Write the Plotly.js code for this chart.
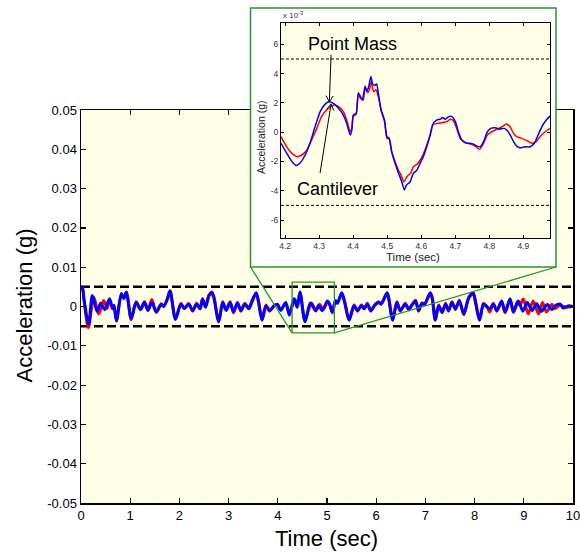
<!DOCTYPE html>
<html><head><meta charset="utf-8">
<script src="https://cdn.plot.ly/plotly-3.0.1.min.js"></script>
<style>html,body{margin:0;padding:0;background:#fff}#chart{width:580px;height:552px}</style>
</head><body><div id="chart"></div>
<script>
// ---------------- DATA ----------------
// Main plot: time (sec) and acceleration in milli-g (converted to g for plotting)
const mainTimeBlue = [0,0.03,0.06,0.155,0.23,0.325,0.40,0.48,0.58,0.64,
 0.67,0.72,0.82,0.87,0.92,1.02,1.12,1.21,1.29,1.36,
 1.44,1.53,1.63,1.68,1.75,1.81,1.92,2.03,2.10,2.19,
 2.27,2.35,2.42,2.47,2.53,2.60,2.66,2.70,2.80,2.88,
 2.95,3.03,3.10,3.18,3.25,3.33,3.41,3.48,3.56,3.61,
 3.68,3.76,3.83,3.93,3.99,4.06,4.16,4.235,4.33,4.395,
 4.45,4.555,4.66,4.77,4.83,4.90,5.01,5.05,5.11,5.17,
 5.21,5.30,5.36,5.45,5.55,5.62,5.70,5.76,5.82,5.89,
 5.97,6.05,6.10,6.22,6.25,6.335,6.42,6.49,6.59,6.66,
 6.73,6.80,6.86,6.93,6.98,7.10,7.14,7.20,7.27,7.34,
 7.41,7.47,7.54,7.61,7.69,7.78,7.88,7.97,8.02,8.10,
 8.18,8.24,8.31,8.38,8.45,8.55,8.62,8.72,8.79,8.89,
 8.98,9.07,9.17,9.26,9.36,9.48,9.57,9.65,9.74,9.80,
 9.91,10.0];
const mainBlueMilliG = [4.5,5.0,2.0,-4.5,2.8,-1.2,0.8,-0.8,2.0,-0.5,
 0.3,-3.7,3.3,2.0,3.6,-3.0,1.0,-0.8,1.0,-1.0,
 1.0,-1.3,0.5,0.0,1.8,4.0,-3.3,0.6,-0.6,0.6,
 -1.0,0.6,-0.6,1.9,-0.2,2.7,3.5,2.3,-3.9,1.0,
 -1.0,1.0,-1.4,1.0,-1.0,0.6,-0.6,1.4,3.5,1.0,
 -3.5,0.2,-1.0,0.2,0.6,-1.0,1.0,-2.2,2.0,-0.2,
 3.7,-3.9,0.9,-1.0,0.25,-1.05,1.4,0.6,-1.4,1.5,
 0.8,3.5,1.0,-3.5,0.2,-1.0,0.2,-0.6,0.6,-1.0,
 0.3,1.0,0.6,3.5,2.3,-3.5,1.0,-1.0,0.6,-0.6,
 0.4,1.4,-1.0,0.8,0.5,3.5,2.0,-3.5,0.2,-1.4,
 0.6,-1.0,1.0,-0.6,1.4,-1.9,2.3,3.5,1.0,-3.5,
 0.6,0.0,-0.6,0.6,-1.0,1.4,-1.4,1.9,-1.4,1.4,
 -1.2,1.0,-1.0,0.7,-1.2,0.5,-0.8,0.3,0.6,-0.4,
 0.2,0.0];
const mainTimeRed = [0,0.03,0.06,0.15,0.26,0.36,0.46,0.53,0.58,0.64,
 0.67,0.72,0.82,0.87,0.93,1.02,1.12,1.21,1.29,1.36,
 1.44,1.53,1.63,1.68,1.75,1.81,1.92,2.03,2.10,2.19,
 2.27,2.35,2.42,2.47,2.53,2.60,2.66,2.70,2.80,2.88,
 2.95,3.03,3.10,3.18,3.25,3.33,3.41,3.48,3.56,3.61,
 3.68,3.76,3.83,3.93,3.99,4.06,4.16,4.235,4.347,4.39,
 4.453,4.549,4.685,4.771,4.85,4.925,5.01,5.05,5.11,5.17,
 5.21,5.30,5.36,5.45,5.55,5.62,5.70,5.76,5.82,5.89,
 5.97,6.05,6.10,6.22,6.25,6.335,6.42,6.49,6.59,6.66,
 6.73,6.80,6.86,6.93,6.98,7.10,7.14,7.20,7.27,7.34,
 7.41,7.47,7.54,7.61,7.69,7.78,7.88,7.97,8.02,8.10,
 8.18,8.24,8.31,8.38,8.45,8.55,8.62,8.72,8.79,8.87,
 8.92,8.99,9.09,9.19,9.30,9.38,9.46,9.57,9.63,9.74,
 9.85,10.0];
const mainRedMilliG = [4.0,4.4,1.5,-5.4,2.4,-1.9,1.5,-0.5,1.8,-0.6,
 0.2,-3.5,3.0,2.2,3.7,-3.4,1.2,-0.6,1.2,-0.8,
 1.8,-1.5,0.7,0.2,1.6,3.8,-3.1,0.8,-0.4,0.8,
 -1.2,0.8,-0.4,2.0,0.0,2.9,3.7,2.5,-3.7,1.2,
 -0.8,1.2,-1.6,0.8,-1.2,0.8,-0.4,1.6,3.3,1.2,
 -3.3,0.4,-1.2,0.3,0.5,-0.8,0.8,-1.67,1.86,0.0,
 3.45,-3.4,0.88,-1.17,0.56,-0.76,1.2,0.7,-1.6,1.3,
 0.9,3.3,1.2,-3.3,0.4,-1.2,0.4,-0.4,0.8,-1.2,
 0.4,1.2,0.7,3.3,2.5,-3.3,1.2,-1.2,0.8,-0.8,
 0.5,1.6,-1.2,0.9,0.6,3.3,2.2,-3.3,0.4,-1.6,
 0.8,-1.2,1.2,-0.8,1.6,-2.1,2.1,3.3,1.2,-3.3,
 0.8,0.2,-1.4,0.8,-1.2,1.2,-1.6,1.9,-1.5,1.2,
 0.3,1.9,-1.9,1.4,-1.9,1.0,-1.4,0.6,-0.5,0.3,
 -0.2,0.0];

// Inset: time (sec) and acceleration in units of 10^-3 g
const insetTimeBlue = [4.188,4.205,4.22,4.232,4.244,4.259,4.273,4.288,4.303,4.317,
 4.329,4.342,4.357,4.371,4.381,4.391,4.396,4.40,4.409,4.415,
 4.422,4.427,4.435,4.44,4.445,4.452,4.457,4.464,4.469,4.474,
 4.482,4.492,4.499,4.506,4.513,4.523,4.533,4.543,4.55,4.557,
 4.567,4.577,4.587,4.597,4.606,4.616,4.626,4.634,4.645,4.655,
 4.663,4.67,4.68,4.69,4.70,4.709,4.719,4.734,4.743,4.751,
 4.763,4.773,4.783,4.794,4.804,4.817,4.83,4.842,4.851,4.861,
 4.871,4.88,4.89,4.905,4.92,4.932,4.945,4.957,4.969,4.978];
const insetBlue = [-0.76,-1.45,-2.0,-2.27,-2.1,-1.56,-0.76,0.37,1.4,1.9,
 2.08,1.97,1.63,1.17,0.6,-0.19,0.15,1.17,1.3,2.7,
 2.4,2.2,3.15,2.8,3.05,3.8,3.3,3.2,3.3,2.65,
 1.5,0.83,-0.3,-0.42,-1.33,-2.13,-2.8,-3.4,-3.95,-3.6,
 -3.4,-2.8,-2.6,-2.1,-1.67,-1.0,-0.2,0.56,0.83,0.88,
 1.0,0.88,1.06,1.06,0.72,0.03,-0.53,-0.76,-0.76,-0.8,
 -0.95,-1.0,-0.65,0.03,0.26,0.3,0.2,0.26,0.15,-0.19,
 -0.65,-0.95,-1.06,-1.0,-1.0,-0.76,-0.08,0.49,0.88,1.1];
const insetTimeRed = [4.188,4.205,4.22,4.234,4.249,4.264,4.278,4.293,4.307,4.322,
 4.337,4.347,4.36,4.371,4.381,4.391,4.396,4.40,4.409,4.415,
 4.422,4.43,4.435,4.442,4.448,4.453,4.46,4.467,4.474,4.482,
 4.492,4.499,4.506,4.513,4.523,4.533,4.54,4.549,4.559,4.569,
 4.577,4.587,4.597,4.606,4.616,4.626,4.634,4.645,4.66,4.675,
 4.685,4.694,4.704,4.714,4.729,4.743,4.758,4.771,4.783,4.794,
 4.807,4.822,4.837,4.85,4.861,4.871,4.88,4.895,4.91,4.925,
 4.937,4.949,4.964,4.978];
const insetRed = [-0.3,-1.0,-1.45,-1.67,-1.56,-1.22,-0.53,0.26,1.06,1.51,
 1.79,1.86,1.7,1.4,0.83,0.03,0.26,1.06,1.24,2.6,
 2.3,2.2,3.06,2.7,2.9,3.45,2.77,2.9,2.4,1.5,
 0.72,-0.42,-0.49,-1.33,-2.0,-2.6,-2.9,-3.4,-3.0,-2.8,
 -2.35,-2.2,-1.9,-1.5,-0.88,-0.19,0.49,0.6,0.65,0.72,
 0.88,0.79,0.26,-0.42,-0.72,-0.8,-0.95,-1.17,-0.76,-0.19,
 0.03,0.2,0.37,0.56,0.37,-0.08,-0.3,-0.42,-0.58,-0.76,
 -0.65,-0.3,0.03,0.26];

const threshold = 0.005;        // g (dashed limits, main plot)
const insetThreshold = 5;       // x10^-3 g (dashed limits, inset)

// Points the inset arrows mark (inset units)
const pointMassPeak = [4.33, 2.08];
const cantileverPeak = [4.335, 1.92];

const mainXRange = [0, 10];
const mainYRange = [-0.05, 0.05];
const insetXRange = [4.188, 4.978];
const insetYRange = [-7.23, 7.46];
const zoomBoxX = [4.29, 5.15];
const zoomBoxY = [-0.0067, 0.0062];

const mainXTicks = [0,1,2,3,4,5,6,7,8,9,10];
const mainXTickText = ['0','1','2','3','4','5','6','7','8','9','10'];
const mainYTicks = [-0.05,-0.04,-0.03,-0.02,-0.01,0,0.01,0.02,0.03,0.04,0.05];
const mainYTickText = ['-0.05','-0.04','-0.03','-0.02','-0.01','0','0.01','0.02','0.03','0.04','0.05'];
const insetXTicks = [4.2,4.3,4.4,4.5,4.6,4.7,4.8,4.9];
const insetXTickText = ['4.2','4.3','4.4','4.5','4.6','4.7','4.8','4.9'];
const insetYTicks = [-6,-4,-2,0,2,4,6];
const insetYTickText = ['-6','-4','-2','0','2','4','6'];

// ---------------- LAYOUT HELPERS ----------------
const W = 580, H = 552;
const px = p => p / W;
const py = p => (H - p) / H;
const FONT = 'Liberation Sans, Arial, sans-serif';
const YELLOW = 'rgb(255,255,232)';
const GREEN = 'rgb(40,150,40)';

const mainXDom = [px(81), px(573)], mainYDom = [py(503), py(110)];
const insetXDom = [px(281), px(550)], insetYDom = [py(238), py(23)];
const frameXDom = [px(246), px(561)], frameYDom = [py(271), py(4)];
const frameXR = [246, 561], frameYR = [H - 271, H - 4];

function toPaper(v, range, dom) { return dom[0] + (v - range[0]) / (range[1] - range[0]) * (dom[1] - dom[0]); }

const toG = arr => arr.map(v => v / 1000);

// arrow (shaft + open V head) as paper shapes; head given in inset data units, tail as pixel offset
function arrowShapes(head, dx, dy) {
  const hx = toPaper(head[0], insetXRange, insetXDom) * W;
  const hy = H - toPaper(head[1], insetYRange, insetYDom) * H;
  const tx = hx + dx, ty = hy + dy;
  const len = Math.hypot(hx - tx, hy - ty);
  const ux = (hx - tx) / len, uy = (hy - ty) / len;
  const L = 7, a = 0.55;
  const arm = s => {
    const c = Math.cos(s * a), sn = Math.sin(s * a);
    const rx = ux * c - uy * sn, ry = ux * sn + uy * c;
    return [hx - L * rx, hy - L * ry];
  };
  const a1 = arm(1), a2 = arm(-1);
  const P = (x, y) => px(x) + ',' + py(y);
  return [
    {type: 'line', xref: 'paper', yref: 'paper', x0: px(tx), y0: py(ty), x1: px(hx), y1: py(hy), line: {color: 'black', width: 1}, layer: 'above'},
    {type: 'path', xref: 'paper', yref: 'paper', path: 'M' + P(a1[0], a1[1]) + 'L' + P(hx, hy) + 'L' + P(a2[0], a2[1]), line: {color: 'black', width: 1}, layer: 'above'}
  ];
}

const traces = [
  {x: mainXRange, y: [threshold, threshold], mode: 'lines', line: {color: 'black', width: 2.5, dash: '9px,4px'}, xaxis: 'x', yaxis: 'y', hoverinfo: 'skip'},
  {x: mainXRange, y: [-threshold, -threshold], mode: 'lines', line: {color: 'black', width: 2.5, dash: '9px,4px'}, xaxis: 'x', yaxis: 'y', hoverinfo: 'skip'},
  {x: mainTimeRed, y: toG(mainRedMilliG), mode: 'lines', line: {color: 'rgb(255,0,0)', width: 3, shape: 'spline', smoothing: 0.8}, xaxis: 'x', yaxis: 'y', name: 'Cantilever'},
  {x: mainTimeBlue, y: toG(mainBlueMilliG), mode: 'lines', line: {color: 'rgb(0,0,255)', width: 3, shape: 'spline', smoothing: 0.8}, xaxis: 'x', yaxis: 'y', name: 'Point Mass'},
  {x: [], y: [], mode: 'lines', xaxis: 'x2', yaxis: 'y2', hoverinfo: 'skip'},
  {x: insetXRange, y: [insetThreshold, insetThreshold], mode: 'lines', line: {color: 'black', width: 1, dash: '3px,2px'}, xaxis: 'x3', yaxis: 'y3', hoverinfo: 'skip'},
  {x: insetXRange, y: [-insetThreshold, -insetThreshold], mode: 'lines', line: {color: 'black', width: 1, dash: '3px,2px'}, xaxis: 'x3', yaxis: 'y3', hoverinfo: 'skip'},
  {x: insetTimeRed, y: insetRed, mode: 'lines', line: {color: 'rgb(255,0,0)', width: 1.5, shape: 'spline', smoothing: 0.5}, xaxis: 'x3', yaxis: 'y3'},
  {x: insetTimeBlue, y: insetBlue, mode: 'lines', line: {color: 'rgb(0,0,255)', width: 1.5, shape: 'spline', smoothing: 0.5}, xaxis: 'x3', yaxis: 'y3'}
];

const axisCommon = {showgrid: false, zeroline: false, showline: true, linecolor: 'black', mirror: 'ticks', ticks: 'inside', tickcolor: 'black', fixedrange: true, ticklabeloverflow: 'allow'};

const boxBL = [toPaper(zoomBoxX[0], mainXRange, mainXDom), toPaper(zoomBoxY[0], mainYRange, mainYDom)];
const boxBR = [toPaper(zoomBoxX[1], mainXRange, mainXDom), toPaper(zoomBoxY[0], mainYRange, mainYDom)];

const layout = {
  width: W, height: H, autosize: false,
  margin: {l: 0, r: 0, t: 0, b: 0},
  paper_bgcolor: 'white', plot_bgcolor: 'rgba(0,0,0,0)',
  showlegend: false,
  font: {family: FONT, color: 'black'},
  xaxis: Object.assign({}, axisCommon, {domain: mainXDom, range: mainXRange, anchor: 'y', tickvals: mainXTicks, ticktext: mainXTickText, ticklen: 5, linewidth: 1.5, tickwidth: 1.2, tickfont: {family: FONT, size: 13, color: 'black'}}),
  yaxis: Object.assign({}, axisCommon, {domain: mainYDom, range: mainYRange, anchor: 'x', tickvals: mainYTicks, ticktext: mainYTickText, ticklen: 5, linewidth: 1.5, tickwidth: 1.2, tickfont: {family: FONT, size: 13, color: 'black'}}),
  xaxis2: {domain: frameXDom, range: frameXR, anchor: 'y2', visible: false, fixedrange: true},
  yaxis2: {domain: frameYDom, range: frameYR, anchor: 'x2', visible: false, fixedrange: true},
  xaxis3: Object.assign({}, axisCommon, {domain: insetXDom, range: insetXRange, anchor: 'y3', tickvals: insetXTicks, ticktext: insetXTickText, ticklen: 3, linewidth: 1, tickfont: {family: FONT, size: 8.5, color: '#333'}}),
  yaxis3: Object.assign({}, axisCommon, {domain: insetYDom, range: insetYRange, anchor: 'x3', tickvals: insetYTicks, ticktext: insetYTickText, ticklen: 3, linewidth: 1, tickfont: {family: FONT, size: 8.5, color: '#333'}}),
  shapes: [
    {type: 'rect', xref: 'x', yref: 'y', x0: mainXRange[0], x1: mainXRange[1], y0: mainYRange[0], y1: mainYRange[1], fillcolor: YELLOW, line: {width: 0}, layer: 'below'},
    {type: 'rect', xref: 'x2', yref: 'y2', x0: 250.5, x1: 556, y0: H - 267, y1: H - 8, fillcolor: 'white', line: {color: GREEN, width: 1.5}, layer: 'below'},
    {type: 'rect', xref: 'x3', yref: 'y3', x0: insetXRange[0], x1: insetXRange[1], y0: insetYRange[0], y1: insetYRange[1], fillcolor: YELLOW, line: {width: 0}, layer: 'below'},
    {type: 'rect', xref: 'x', yref: 'y', x0: zoomBoxX[0], x1: zoomBoxX[1], y0: zoomBoxY[0], y1: zoomBoxY[1], line: {color: GREEN, width: 1.3}, layer: 'above'},
    {type: 'line', xref: 'paper', yref: 'paper', x0: px(250.5), y0: py(267), x1: boxBL[0], y1: boxBL[1], line: {color: GREEN, width: 1.3}, layer: 'above'},
    {type: 'line', xref: 'paper', yref: 'paper', x0: px(556), y0: py(267), x1: boxBR[0], y1: boxBR[1], line: {color: GREEN, width: 1.3}, layer: 'above'}
  ].concat(arrowShapes(pointMassPeak, 1.7, -47), arrowShapes(cantileverPeak, -11, 69)),
  annotations: [
    {xref: 'paper', yref: 'paper', x: px(24), y: py(305.5), text: 'Acceleration (g)', textangle: -90, showarrow: false, font: {family: FONT, size: 22, color: 'black'}, xanchor: 'center', yanchor: 'middle'},
    {xref: 'paper', yref: 'paper', x: px(326), y: py(538), text: 'Time (sec)', showarrow: false, font: {family: FONT, size: 22, color: 'black'}, xanchor: 'center', yanchor: 'middle'},
    {xref: 'paper', yref: 'paper', x: px(413), y: py(257), text: 'Time (sec)', showarrow: false, font: {family: FONT, size: 11.5, color: '#222'}, xanchor: 'center', yanchor: 'middle'},
    {xref: 'paper', yref: 'paper', x: px(261), y: py(137), text: 'Acceleration (g)', textangle: -90, showarrow: false, font: {family: FONT, size: 10.5, color: '#222'}, xanchor: 'center', yanchor: 'middle'},
    {xref: 'paper', yref: 'paper', x: px(281), y: py(15), text: 'x 10<sup>-3</sup>', showarrow: false, font: {family: FONT, size: 8, color: '#333'}, xanchor: 'left', yanchor: 'middle'},
    {xref: 'paper', yref: 'paper', x: px(352), y: py(44), text: 'Point Mass', showarrow: false, font: {family: FONT, size: 18, color: 'black'}, xanchor: 'center', yanchor: 'middle'},
    {xref: 'paper', yref: 'paper', x: px(337), y: py(189), text: 'Cantilever', showarrow: false, font: {family: FONT, size: 18, color: 'black'}, xanchor: 'center', yanchor: 'middle'}
  ]
};

Plotly.newPlot('chart', traces, layout, {staticPlot: true, displayModeBar: false});
</script>
</body></html>
